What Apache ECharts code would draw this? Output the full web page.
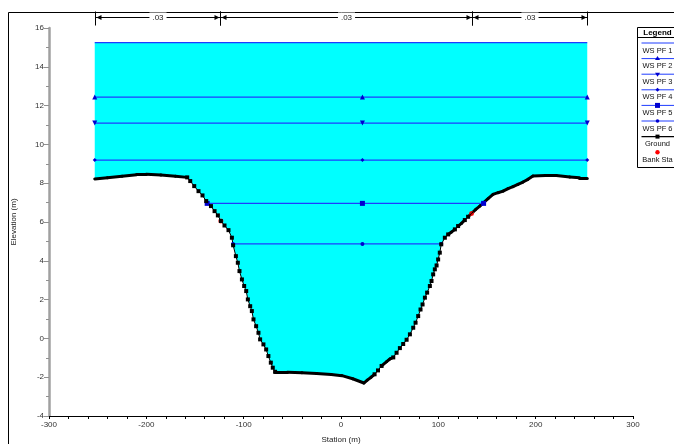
<!DOCTYPE html>
<html>
<head>
<meta charset="utf-8">
<script src="https://cdn.jsdelivr.net/npm/echarts@6/dist/echarts.min.js"></script>
<style>
  html, body { margin: 0; padding: 0; background: #fff; }
  #chart { width: 674px; height: 444px; }
</style>
</head>
<body>
<div id="chart"></div>
<script>
// ground profile (station m, elevation m)
var groundSta = [
  -253, -240, -225, -210, -200, -185, -170, -158,
  -154.9, -150.8, -146.4, -142.3, -138.5, -133.6, -129.9, -126.5, -123.4, -119.7, -115.6, -112.1,
  -110.8, -108, -106, -104.3, -101.8, -99.5, -97.4, -95.7, -93.3, -91.6, -89.9, -87.2, -84.8,
  -83.1, -79.7, -76.9, -74.6, -72.1, -70.1, -67.7,
  -55, -40, -25, -10, 1, 12, 23.5,
  27, 31, 34.5, 38, 41.7, 46.9, 50.5, 53.7, 57.1, 60.5, 63.9, 67.4, 70.8, 74.2, 76.6, 79.3,
  81.7, 83.8, 86.2, 88.5, 91.3, 93.0, 94.7, 96.4, 98.2, 99.8, 101.5, 103.0,
  106.7, 110.1, 113.5, 117.0, 120.3, 123.8, 127.2, 130.6, 134.1, 138.5, 142.6, 146.5,
  151.1, 156.2, 161.3, 166.5, 171.6, 176.7, 181.8, 187.0, 192.1, 197.2,
  210, 221.2, 235, 245.1, 253
]
var groundElev = [
  8.22, 8.28, 8.36, 8.44, 8.46, 8.42, 8.36, 8.30,
  8.11, 7.85, 7.59, 7.37, 7.08, 6.82, 6.56, 6.34, 6.05, 5.82, 5.58, 5.19,
  4.80, 4.24, 3.90, 3.47, 3.04, 2.70, 2.44, 2.01, 1.66, 1.41, 0.98, 0.63, 0.29,
  -0.05, -0.31, -0.57, -0.91, -1.25, -1.51, -1.72,
  -1.74, -1.77, -1.81, -1.86, -1.92, -2.08, -2.30,
  -2.15, -2.00, -1.85, -1.65, -1.42, -1.20, -1.05, -0.98, -0.74, -0.50, -0.29, -0.07, 0.21, 0.55, 0.81, 1.15,
  1.49, 1.75, 2.10, 2.36, 2.70, 2.96, 3.30, 3.56, 3.76, 4.07, 4.42, 4.85,
  5.19, 5.36, 5.48, 5.62, 5.79, 5.93, 6.10, 6.27, 6.44, 6.65, 6.82, 7.00,
  7.20, 7.42, 7.51, 7.59, 7.72, 7.82, 7.94, 8.06, 8.20, 8.37,
  8.40, 8.40, 8.32, 8.28, 8.26
]

// bank stations
var bankSta = [-123.4, 134.1]
var bankElev = [6.05, 6.44]

// water surfaces per profile
var wsNames = ['WS PF 1', 'WS PF 2', 'WS PF 3', 'WS PF 4', 'WS PF 5', 'WS PF 6']
var wsElev = [15.25, 12.44, 11.10, 9.19, 6.96, 4.87]
var wsLeft = [-253, -253, -253, -253, -137.5, -111]
var wsMid = [22, 22, 22, 22, 22, 22]
var wsRight = [253, 253, 253, 253, 146.5, 103]

// Manning's n regions along the top
var nStart = [-253, -124, 134.4]
var nEnd = [-124, 134.4, 253]
var nValues = ['.03', '.03', '.03']

var xTicks = [-300, -200, -100, 0, 100, 200, 300]
var yTicks = [-4, -2, 0, 2, 4, 6, 8, 10, 12, 14, 16]

var font = '"Liberation Sans", Arial, sans-serif'
var wsColor = '#1f3cff'
var wsMarkColor = '#0000d0'
var wsSymbols = ['none', 'triangle', 'triangle', 'diamond', 'rect', 'circle']
var wsRotate = [0, 0, 180, 0, 0, 0]
var wsSizes = [0, 5, 5, 4, 5, 4]

var groundPts = groundSta.map(function (s, i) { return [s, groundElev[i]] })

// gentle stretches of ground drawn heavy, like the source plot
var flat = []
var flatSegs = []
for (var i = 0; i < groundSta.length - 1; i++) {
  var slope = Math.abs(groundElev[i + 1] - groundElev[i]) / (groundSta[i + 1] - groundSta[i])
  flat.push(slope < 0.05)
  if (slope < 0.05) {
    flatSegs.push({ coords: [groundPts[i], groundPts[i + 1]] })
  }
}
var groundMarks = groundPts.map(function (p, i) {
  var lf = i === 0 ? true : flat[i - 1]
  var rf = i === groundPts.length - 1 ? true : flat[i]
  return (lf && rf) ? { value: p, symbol: 'none' } : { value: p }
})

var series = []

// water body between the top profile and the ground
series.push({
  name: 'water',
  type: 'custom',
  data: [[wsLeft[0], wsRight[0], wsElev[0]]],
  encode: { x: [0, 1], y: 2 },
  renderItem: function (params, api) {
    var pts = [api.coord([api.value(0), api.value(2)]), api.coord([api.value(1), api.value(2)])]
    for (var j = groundPts.length - 1; j >= 0; j--) pts.push(api.coord(groundPts[j]))
    return { type: 'polygon', shape: { points: pts }, style: { fill: '#00ffff', stroke: null } }
  }
})

for (var k = 0; k < wsNames.length; k++) {
  series.push({
    name: wsNames[k],
    type: 'line',
    data: [[wsLeft[k], wsElev[k]], [wsMid[k], wsElev[k]], [wsRight[k], wsElev[k]]],
    symbol: wsSymbols[k],
    symbolSize: wsSizes[k],
    symbolRotate: wsRotate[k],
    showAllSymbol: true,
    itemStyle: { color: wsMarkColor },
    lineStyle: { color: wsColor, width: 1.2 }
  })
}

series.push({
  name: 'Ground',
  type: 'lines',
  coordinateSystem: 'cartesian2d',
  data: flatSegs,
  lineStyle: { color: '#000', width: 3, opacity: 1, cap: 'round' }
})

series.push({
  name: 'Ground',
  type: 'line',
  data: groundMarks,
  symbol: 'rect',
  symbolSize: 4,
  showAllSymbol: true,
  itemStyle: { color: '#000' },
  lineStyle: { color: '#000', width: 1 }
})

series.push({
  name: 'Bank Sta',
  type: 'scatter',
  data: bankSta.map(function (s, i) { return [s, bankElev[i]] }),
  symbol: 'circle',
  symbolSize: 5,
  itemStyle: { color: '#ff0000' }
})

// n-value brackets above the plot
var nLineElev = 16.55
series.push({
  name: 'nvals',
  type: 'custom',
  clip: false,
  data: nStart.map(function (s, i) { return [s, nEnd[i], nLineElev] }),
  encode: { x: [0, 1], y: 2 },
  renderItem: function (params, api) {
    var a = api.coord([api.value(0), api.value(2)])
    var b = api.coord([api.value(1), api.value(2)])
    var y = Math.round(a[1]) + 0.5
    var x0 = Math.round(a[0]) + 0.5
    var x1 = Math.round(b[0]) + 0.5
    return {
      type: 'group',
      children: [
        { type: 'line', shape: { x1: x0, y1: y, x2: x1, y2: y }, style: { stroke: '#000', lineWidth: 1 } },
        { type: 'polygon', shape: { points: [[x0 + 1, y], [x0 + 6, y - 2.5], [x0 + 6, y + 2.5]] }, style: { fill: '#000' } },
        { type: 'polygon', shape: { points: [[x1 - 1, y], [x1 - 6, y - 2.5], [x1 - 6, y + 2.5]] }, style: { fill: '#000' } },
        { type: 'line', shape: { x1: x0, y1: y - 6, x2: x0, y2: y + 8 }, style: { stroke: '#000', lineWidth: 1 } },
        { type: 'line', shape: { x1: x1, y1: y - 6, x2: x1, y2: y + 8 }, style: { stroke: '#000', lineWidth: 1 } },
        {
          type: 'text',
          x: (x0 + x1) / 2,
          y: y,
          style: {
            text: nValues[params.dataIndex],
            fill: '#222',
            font: '8px ' + font,
            align: 'center',
            verticalAlign: 'middle',
            backgroundColor: '#fff',
            padding: [1, 3]
          }
        }
      ]
    }
  }
})

// legend box drawn as graphic (labels sit under the line samples)
var legendItems = wsNames.concat(['Ground', 'Bank Sta'])
var legendChildren = [
  { type: 'rect', shape: { x: 0, y: 0, width: 60, height: 140 }, style: { fill: '#fff', stroke: '#000', lineWidth: 1 } },
  { type: 'text', x: 20, y: 5.5, style: { text: 'Legend', font: 'bold 8px ' + font, fill: '#000', align: 'center', verticalAlign: 'middle' } },
  { type: 'line', shape: { x1: 0, y1: 10, x2: 60, y2: 10 }, style: { stroke: '#000', lineWidth: 1 } }
]
legendItems.forEach(function (name, i) {
  var ly = 15.5 + i * 15.6
  if (name !== 'Bank Sta') {
    var c = name === 'Ground' ? '#000' : wsColor
    legendChildren.push({ type: 'line', shape: { x1: 4, y1: ly, x2: 38, y2: ly }, style: { stroke: c, lineWidth: name === 'Ground' ? 1.2 : 1 } })
  }
  var mk = null
  if (name === 'Ground') mk = { type: 'rect', shape: { x: 18, y: ly - 2, width: 4, height: 4 }, style: { fill: '#000' } }
  else if (name === 'Bank Sta') mk = { type: 'circle', shape: { cx: 20, cy: ly, r: 2.2 }, style: { fill: '#ff0000' } }
  else if (i === 1) mk = { type: 'polygon', shape: { points: [[20, ly - 2.5], [22.5, ly + 1.5], [17.5, ly + 1.5]] }, style: { fill: wsMarkColor } }
  else if (i === 2) mk = { type: 'polygon', shape: { points: [[20, ly + 2.5], [22.5, ly - 1.5], [17.5, ly - 1.5]] }, style: { fill: wsMarkColor } }
  else if (i === 3) mk = { type: 'polygon', shape: { points: [[20, ly - 2], [22, ly], [20, ly + 2], [18, ly]] }, style: { fill: wsMarkColor } }
  else if (i === 4) mk = { type: 'rect', shape: { x: 17.5, y: ly - 2.5, width: 5, height: 5 }, style: { fill: wsMarkColor } }
  else if (i === 5) mk = { type: 'circle', shape: { cx: 20, cy: ly, r: 1.8 }, style: { fill: wsMarkColor } }
  if (mk) legendChildren.push(mk)
  legendChildren.push({ type: 'text', x: 20, y: ly + 7.5, style: { text: name, font: '7.5px ' + font, fill: '#111', align: 'center', verticalAlign: 'middle' } })
})

var option = {
  animation: false,
  backgroundColor: '#fff',
  grid: { left: 49, right: 41, top: 28, bottom: 28, outerBoundsMode: 'none' },
  xAxis: {
    type: 'value',
    min: xTicks[0],
    max: xTicks[xTicks.length - 1],
    interval: 20,
    z: 10,
    name: 'Station (m)',
    nameLocation: 'middle',
    nameGap: 20,
    nameTextStyle: { fontFamily: font, fontSize: 8, color: '#222' },
    axisLine: { onZero: false, lineStyle: { color: '#000', width: 1 } },
    axisTick: { length: 3, lineStyle: { color: '#000' } },
    axisLabel: {
      fontFamily: font, fontSize: 8, color: '#333', margin: 5,
      formatter: function (v) { return xTicks.indexOf(v) >= 0 ? String(v) : '' }
    },
    splitLine: { show: false }
  },
  yAxis: {
    type: 'value',
    min: yTicks[0],
    max: yTicks[yTicks.length - 1],
    interval: 2,
    z: 10,
    name: 'Elevation (m)',
    nameLocation: 'middle',
    nameGap: 31,
    nameTextStyle: { fontFamily: font, fontSize: 8, color: '#222' },
    axisLine: { onZero: false, lineStyle: { color: '#a0a0a0', width: 2.5 } },
    axisTick: { length: 5, lineStyle: { color: '#909090' } },
    minorTick: { show: true, splitNumber: 2, length: 3, lineStyle: { color: '#909090' } },
    axisLabel: { fontFamily: font, fontSize: 8, color: '#333', margin: 5 },
    splitLine: { show: false }
  },
  graphic: [
    { type: 'rect', left: 6, top: 10, shape: { width: 700, height: 500 }, style: { fill: 'none', stroke: '#000', lineWidth: 1 }, z: 0 },
    { type: 'group', left: 635, top: 27, children: legendChildren, z: 20 }
  ],
  series: series
}

var myChart = echarts.init(document.getElementById('chart'))
myChart.setOption(option)
</script>
</body>
</html>
